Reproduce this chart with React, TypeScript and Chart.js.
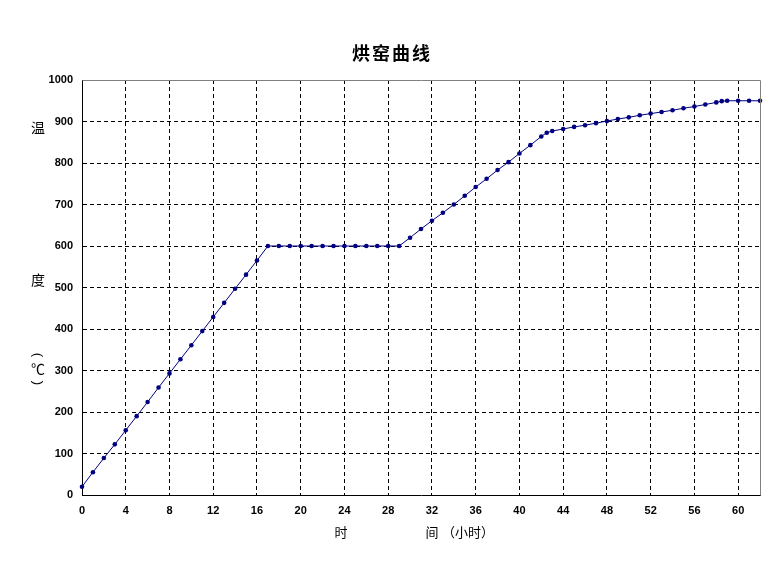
import React, { useEffect, useRef } from "react";
import { Chart, registerables } from "chart.js";

Chart.register(...registerables);

const TITLE = "烘窑曲线";
const Y_TITLE_CHARS = ["温", "度", "℃"];
const X_TITLE_PARTS = ["时", "间", "（小时）"];

const hours = [
  0, 1, 2, 3, 4, 5, 6, 7, 8, 9, 10, 11, 12, 13, 14, 15, 16, 17,
  18, 19, 20, 21, 22, 23, 24, 25, 26, 27, 28, 29,
  30, 31, 32, 33, 34, 35, 36, 37, 38, 39, 40, 41, 42, 42.5,
  43, 44, 45, 46, 47, 48, 49, 50, 51, 52, 53, 54, 55, 56, 57, 58, 58.5,
  59, 60, 61, 62,
];
const temps = [
  20, 55, 89, 122, 156, 190, 224, 259, 293, 327, 361, 395, 429, 463, 497, 531, 565, 600,
  600, 600, 600, 600, 600, 600, 600, 600, 600, 600, 600, 600,
  620, 641, 661, 680, 700, 721, 742, 762, 783, 802, 823, 843, 864, 873,
  877, 882, 887, 891, 896, 901, 906, 910, 915, 919, 923, 927, 932, 936, 941, 946, 949,
  950, 950, 950, 950,
];

const X_MIN = 0;
const X_MAX = 62;
const X_STEP = 4;
const Y_MIN = 0;
const Y_MAX = 1000;
const Y_STEP = 100;

const CJK = '"Noto Sans CJK SC", "Noto Sans", sans-serif';
const TICK_FONT = { family: '"Liberation Sans", Arial, sans-serif', size: 11, weight: "bold" as const };

const textPlugin = {
  id: "customText",
  afterDraw(chart: any) {
    const { ctx, chartArea } = chart;
    ctx.save();
    // plot frame (top & right in gray)
    ctx.strokeStyle = "#808080";
    ctx.lineWidth = 1;
    ctx.beginPath();
    ctx.moveTo(Math.round(chartArea.left) + 0.5, Math.round(chartArea.top) + 0.5);
    ctx.lineTo(Math.round(chartArea.right) + 0.5, Math.round(chartArea.top) + 0.5);
    ctx.lineTo(Math.round(chartArea.right) + 0.5, Math.round(chartArea.bottom) + 0.5);
    ctx.stroke();

    ctx.fillStyle = "#000";
    // title
    ctx.font = `bold 18px ${CJK}`;
    ctx.textAlign = "center";
    ctx.textBaseline = "middle";
    (ctx as any).letterSpacing = "2px";
    ctx.fillText(TITLE, 392, 53);
    (ctx as any).letterSpacing = "0px";

    // y title
    ctx.font = `14px ${CJK}`;
    ctx.fillText(Y_TITLE_CHARS[0], 38, 128);
    ctx.fillText(Y_TITLE_CHARS[1], 38, 280);
    ctx.fillText(Y_TITLE_CHARS[2], 38, 369);
    ctx.font = `13px "Liberation Sans", sans-serif`;
    ctx.save();
    ctx.translate(38, 355);
    ctx.rotate(Math.PI / 2);
    ctx.fillText("(", 0, 0);
    ctx.restore();
    ctx.save();
    ctx.translate(38, 383);
    ctx.rotate(Math.PI / 2);
    ctx.fillText(")", 0, 0);
    ctx.restore();

    // x title
    ctx.font = `13px ${CJK}`;
    ctx.fillText(X_TITLE_PARTS[0], 341, 532);
    ctx.fillText(X_TITLE_PARTS[1], 432, 532);
    ctx.textAlign = "left";
    ctx.fillText(X_TITLE_PARTS[2], 442, 532);
    ctx.restore();
  },
};

export default function App() {
  const ref = useRef<HTMLCanvasElement | null>(null);

  useEffect(() => {
    if (!ref.current) return;
    const chart = new Chart(ref.current, {
      type: "line",
      data: {
        datasets: [
          {
            data: hours.map((h, i) => ({ x: h, y: temps[i] })),
            borderColor: "#000080",
            backgroundColor: "#000080",
            borderWidth: 1,
            pointRadius: 2.3,
            pointBorderWidth: 0,
            pointBackgroundColor: "#000080",
            pointHoverRadius: 2.3,
            tension: 0,
            clip: false as any,
          },
        ],
      },
      options: {
        animation: false,
        responsive: true,
        maintainAspectRatio: false,
        layout: { padding: { left: 0, right: 23, top: 80, bottom: 0 } },
        plugins: {
          legend: { display: false },
          title: { display: false },
          tooltip: { enabled: false },
        },
        scales: {
          x: {
            type: "linear",
            min: X_MIN,
            max: X_MAX,
            afterFit: (s: any) => {
              s.height = 84;
            },
            ticks: {
              stepSize: X_STEP,
              includeBounds: false,
              color: "#000",
              font: TICK_FONT,
              padding: 9,
              maxRotation: 0,
              autoSkip: false,
              callback: (v: any) => String(v),
            },
            grid: {
              drawTicks: false,
              color: (c: any) => (c.tick && (c.tick.value === X_MIN || c.tick.value === X_MAX) ? "rgba(0,0,0,0)" : "#000"),
              lineWidth: 1,
            },
            border: { display: true, color: "#000", width: 1, dash: [4, 3] },
          },
          y: {
            type: "linear",
            min: Y_MIN,
            max: Y_MAX,
            afterFit: (s: any) => {
              s.width = 82;
            },
            ticks: {
              stepSize: Y_STEP,
              color: "#000",
              font: TICK_FONT,
              padding: 9,
              callback: (v: any) => String(v),
            },
            grid: {
              drawTicks: false,
              color: (c: any) => (c.tick && (c.tick.value === Y_MIN || c.tick.value === Y_MAX) ? "rgba(0,0,0,0)" : "#000"),
              lineWidth: 1,
            },
            border: { display: true, color: "#000", width: 1, dash: [4, 3] },
          },
        },
      },
      plugins: [textPlugin],
    });
    return () => chart.destroy();
  }, []);

  return (
    <div style={{ position: "fixed", left: 0, top: 0, width: 783, height: 579, background: "#fff" }}>
      <canvas ref={ref} />
    </div>
  );
}
